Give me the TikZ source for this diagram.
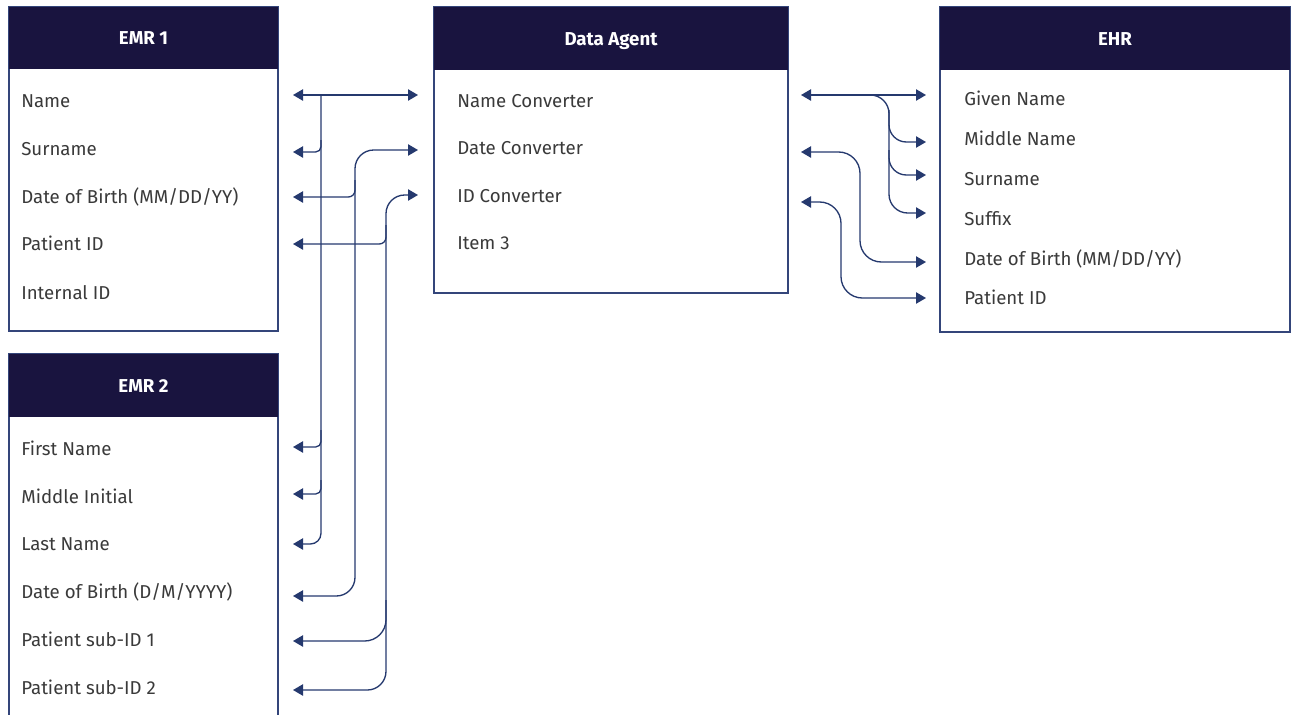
\documentclass[tikz,border=0pt]{standalone}
\usepackage{fontspec}
\setmainfont{Fira Sans}
\usetikzlibrary{arrows.meta}
\definecolor{navy}{HTML}{19143F}
\definecolor{linec}{HTML}{25396E}
\definecolor{bordc}{HTML}{34457A}
\definecolor{txt}{HTML}{3A3A3A}
\tikzset{
  panel/.style={draw=bordc, line width=0.8pt, fill=white, anchor=north west, inner sep=0pt, outer sep=0pt},
  head/.style={fill=navy, anchor=north west, inner sep=0pt, outer sep=0pt, text=white, text height=10pt, text depth=0pt, font=\fontsize{14}{16}\selectfont\bfseries},
  item/.style={anchor=west, inner sep=0pt, text=txt, text height=10pt, text depth=0pt, font=\fontsize{14}{16}\selectfont},
  conn/.style={draw=linec, line width=1pt},
  tip/.style={-{Triangle[length=7.5pt,width=8.5pt]}},
  tips/.style={{Triangle[length=7.5pt,width=8.5pt]}-{Triangle[length=7.5pt,width=8.5pt]}},
}
\begin{document}
\begin{tikzpicture}[x=0.75pt,y=-0.75pt]
\useasboundingbox (0,0) rectangle (1291,714);
\clip (0,0) rectangle (1291,714);
% boxes
\node[panel, minimum width=201.75pt, minimum height=243pt] (emr1) at (9,7) {};
\node[head, minimum width=201.75pt, minimum height=46.5pt] (emr1h) at (9,7) {EMR 1};
\node[panel, minimum width=201.75pt, minimum height=300pt] (emr2) at (9,354) {};
\node[head, minimum width=201.75pt, minimum height=47pt] (emr2h) at (9,354) {EMR 2};
\node[panel, minimum width=265.5pt, minimum height=214.5pt] (da) at (434,7) {};
\node[head, minimum width=265.5pt, minimum height=47pt] (dah) at (434,7) {Data Agent};
\node[panel, minimum width=262.5pt, minimum height=243.75pt] (ehr) at (940,7) {};
\node[head, minimum width=262.5pt, minimum height=47pt] (ehrh) at (940,7) {EHR};
% EMR 1 items
\node[item] (a1) at (21,101) {Name};
\node[item] (a2) at (21,149) {Surname};
\node[item] (a3) at (21,197) {Date of Birth (MM/DD/YY)};
\node[item] (a4) at (21,244) {Patient ID};
\node[item] (a5) at (21,293) {Internal ID};
% EMR 2 items
\node[item] (b1) at (21,449) {First Name};
\node[item] (b2) at (21,497) {Middle Initial};
\node[item] (b3) at (21,544) {Last Name};
\node[item] (b4) at (21,592) {Date of Birth (D/M/YYYY)};
\node[item] (b5) at (21,640) {Patient sub-ID 1};
\node[item] (b6) at (21,688) {Patient sub-ID 2};
% Data agent items
\node[item] (d1) at (457,101) {Name Converter};
\node[item] (d2) at (457,148) {Date Converter};
\node[item] (d3) at (457,196) {ID Converter};
\node[item] (d4) at (457,243) {Item 3};
% EHR items
\node[item] (h1) at (964,99) {Given Name};
\node[item] (h2) at (964,139) {Middle Name};
\node[item] (h3) at (964,179) {Surname};
\node[item] (h4) at (964,219) {Suffix};
\node[item] (h5) at (964,259) {Date of Birth (MM/DD/YY)};
\node[item] (h6) at (964,298) {Patient ID};
% arrow end coordinates, left side
\coordinate (pa1) at (293,95);
\coordinate (pa2) at (293,152);
\coordinate (pa3) at (293,197);
\coordinate (pa4) at (293,244);
\coordinate (pb1) at (293,447);
\coordinate (pb2) at (293,494);
\coordinate (pb3) at (293,544);
\coordinate (pb4) at (293,596);
\coordinate (pb5) at (293,641);
\coordinate (pb6) at (293,690);
\coordinate (pd1) at (418,95);
\coordinate (pd2) at (418,150);
\coordinate (pd3) at (418,195);
% right side
\coordinate (qd1) at (801,95);
\coordinate (qd2) at (801,152);
\coordinate (qd3) at (801,202);
\coordinate (ph1) at (926,95);
\coordinate (ph2) at (926,142);
\coordinate (ph3) at (926,175);
\coordinate (ph4) at (926,213);
\coordinate (ph5) at (926,262);
\coordinate (ph6) at (926,298);
% junction coordinates
\coordinate (vn) at (321,95);
% left: name
\draw[conn,tips] (pa1) -- (pd1);
\draw[conn,tip,rounded corners=8] (vn) |- (pb3);
\draw[conn,tip,rounded corners=4] (321,140) |- (pa2);
\draw[conn,tip,rounded corners=4] (321,430) |- (pb1);
\draw[conn,tip,rounded corners=4] (321,480) |- (pb2);
% left: date
\draw[conn,tips,rounded corners=14] (pd2) -- (355,150) -- (355,596) -- (pb4);
\draw[conn,tip,rounded corners=5] (355,180) |- (pa3);
% left: id
\draw[conn,tips,rounded corners=14] (pd3) -- (386,195) -- (386,690) -- (pb6);
\draw[conn,tip,rounded corners=5] (386,225) |- (pa4);
\draw[conn,tip,rounded corners=16] (386,600) |- (pb5);
% right: name
\draw[conn,tips] (qd1) -- (ph1);
\draw[conn,tip,rounded corners=14] (860,95) -- (889,95) -- (889,213) -- (ph4);
\draw[conn,tip,rounded corners=13] (889,110) |- (ph2);
\draw[conn,tip,rounded corners=13] (889,150) |- (ph3);
% right: date and id
\draw[conn,tips,rounded corners=16] (qd2) -- (860,152) -- (860,262) -- (ph5);
\draw[conn,tips,rounded corners=16] (qd3) -- (841,202) -- (841,298) -- (ph6);
\end{tikzpicture}
\end{document}
